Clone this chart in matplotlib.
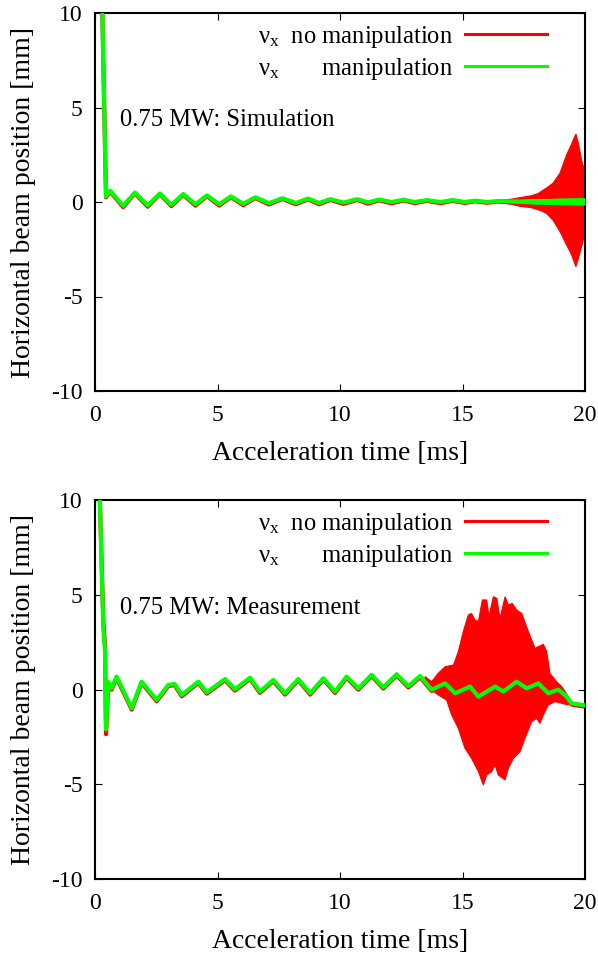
import numpy as np
import matplotlib
matplotlib.use("Agg")
import matplotlib.pyplot as plt
from matplotlib.lines import Line2D

# ==== Fonts (gnuplot-like Times look) ==== #
plt.rcParams['font.family'] = 'Liberation Serif'
plt.rcParams['mathtext.fontset'] = 'custom'
plt.rcParams['mathtext.rm'] = 'Liberation Serif'
plt.rcParams['mathtext.it'] = 'Liberation Serif:italic'

# ==== Data ==== #
# --- simulation (top panel) ---
t_sim = [0.22, 0.30, 0.45, 0.62, 1.15, 1.63, 2.15, 2.65, 3.12, 3.60, 4.10,
         4.57, 5.07, 5.55, 6.05, 6.55, 7.10, 7.65, 8.20, 8.70, 9.15, 9.60,
         10.15, 10.70, 11.15, 11.60, 12.10, 12.60, 13.05, 13.55, 14.10,
         14.60, 15.10, 15.50, 16.00, 16.50, 17.00, 17.50, 18.00, 18.50,
         19.00, 19.50, 20.00]
x_sim_green = [12.0, 10.0, 0.30, 0.60, -0.20, 0.50, -0.18, 0.45, -0.15, 0.42,
               -0.12, 0.35, -0.12, 0.30, -0.10, 0.25, -0.06, 0.20, -0.05, 0.18,
               -0.05, 0.15, -0.03, 0.15, -0.02, 0.13, 0.00, 0.12, 0.00, 0.10,
               0.00, 0.10, 0.00, 0.07, 0.00, 0.05, 0.03, 0.03, 0.05, 0.05,
               0.07, 0.08, 0.10]
x_sim_red = [12.0, 10.0, 0.25, 0.55, -0.27, 0.46, -0.25, 0.42, -0.22, 0.38,
             -0.19, 0.31, -0.19, 0.26, -0.17, 0.21, -0.13, 0.16, -0.12, 0.14,
             -0.12, 0.11, -0.10, 0.11, -0.09, 0.09, -0.07, 0.08, -0.06, 0.06,
             -0.06, 0.06, -0.05, 0.04, -0.04, 0.03, 0.00, 0.00, 0.00, 0.00,
             0.00, 0.00, 0.00]
# red envelope (fast oscillation) at the end of the cycle
t_sim_up = [16.5, 17.0, 17.35, 17.8, 18.1, 18.2, 18.43, 18.7, 18.98, 19.25,
            19.43, 19.63, 19.75, 19.86, 20.0]
x_sim_up = [0.08, 0.15, 0.23, 0.33, 0.45, 0.55, 0.74, 1.0, 1.53, 2.5,
            3.0, 3.6, 3.0, 2.2, 1.6]
t_sim_lo = [16.5, 17.0, 17.35, 17.8, 18.16, 18.43, 18.7, 18.98, 19.25, 19.43,
            19.63, 19.75, 19.86, 20.0]
x_sim_lo = [-0.05, -0.12, -0.23, -0.30, -0.44, -0.6, -0.97, -1.57, -2.28,
            -2.72, -3.42, -2.9, -2.37, -1.65]
# green band (small fast oscillation) at the end
t_sim_band = [17.0, 18.0, 19.0, 20.0]
x_sim_band_up = [0.10, 0.18, 0.20, 0.22]
x_sim_band_lo = [-0.05, -0.12, -0.15, -0.17]

# --- measurement (bottom panel) ---
t_meas = [0.18, 0.34, 0.41, 0.45, 0.54, 0.68, 0.88, 1.50, 1.90, 2.52, 2.99,
          3.25, 3.54, 4.22, 4.56, 5.31, 5.71, 6.33, 6.73, 7.28, 7.76, 8.30,
          8.78, 9.32, 9.80, 10.27, 10.75, 11.29, 11.77, 12.31, 12.79, 13.27,
          13.74, 14.29, 14.70, 15.31, 15.65, 16.33, 16.67, 17.21, 17.62,
          18.10, 18.50, 18.91, 19.18, 19.46, 19.93, 20.00]
x_meas_green = [10.8, 3.2, 2.0, -2.1, 0.42, 0.07, 0.69, -0.98, 0.42, -0.54,
                0.25, 0.30, -0.28, 0.42, -0.14, 0.56, 0.02, 0.63, -0.10, 0.51,
                -0.19, 0.56, -0.19, 0.60, -0.10, 0.69, 0.07, 0.78, 0.13, 0.81,
                0.19, 0.72, 0.00, 0.33, -0.19, 0.16, -0.37, 0.16, -0.10, 0.42,
                0.07, 0.33, -0.19, 0.00, -0.28, -0.72, -0.81, -0.82]
x_meas_red = [10.8, 3.6, 2.3, -2.35, 0.35, 0.00, 0.62, -1.05, 0.36, -0.61,
              0.19, 0.24, -0.35, 0.36, -0.21, 0.50, -0.05, 0.57, -0.17, 0.45,
              -0.26, 0.50, -0.26, 0.54, -0.17, 0.63, 0.00, 0.72, 0.06, 0.75,
              0.12, 0.66, -0.07, 0.27, -0.26, 0.10, -0.44, 0.10, -0.17, 0.36,
              0.00, 0.27, -0.26, -0.07, -0.35, -0.79, -0.88, -0.89]
t_meas_up = [13.47, 13.74, 14.01, 14.29, 14.63, 14.83, 15.03, 15.24, 15.37,
             15.51, 15.65, 15.81, 15.99, 16.08, 16.26, 16.40, 16.53, 16.74,
             16.87, 17.03, 17.21, 17.42, 17.69, 17.96, 18.10, 18.30, 18.44,
             18.57, 18.84, 19.05, 19.32]
x_meas_up = [0.69, 0.42, 0.86, 1.21, 1.30, 2.0, 3.06, 3.94, 4.02, 3.67, 3.59,
             4.73, 4.73, 3.85, 4.90, 4.82, 3.76, 4.90, 4.46, 4.55, 4.20, 4.02,
             3.06, 2.18, 2.27, 2.39, 2.00, 0.86, 0.42, 0.16, -0.37]
t_meas_lo = [13.47, 14.01, 14.35, 14.56, 14.83, 15.10, 15.37, 15.65, 15.85,
             15.99, 16.19, 16.33, 16.46, 16.74, 16.87, 17.08, 17.35, 17.55,
             17.82, 18.03, 18.16, 18.30, 18.50, 18.78, 19.05, 19.32]
x_meas_lo = [0.25, -0.28, -0.54, -1.34, -2.04, -3.09, -3.62, -4.32, -5.03,
             -4.50, -4.32, -3.97, -4.50, -4.76, -4.15, -3.62, -3.27, -2.57,
             -1.69, -1.51, -1.78, -1.34, -0.81, -0.63, -0.72, -0.81]

RED = '#ff0000'
GREEN = '#00ff00'
LABEL_1 = r'$\mathrm{\nu_x}$  no manipulation'
LABEL_2 = r'$\mathrm{\nu_x}$       manipulation'


def style_axes(ax):
    ax.set_xlim(0, 20)
    ax.set_ylim(-10, 10)
    ax.set_xticks([0, 5, 10, 15, 20])
    ax.set_yticks([-10, -5, 0, 5, 10])
    ax.set_yticklabels(['-10', '-5', '0', '5', '10'])
    ax.tick_params(direction='in', top=True, right=True, length=5, width=0.8,
                   labelsize=17)
    ax.tick_params(axis='y', pad=9)
    ax.tick_params(axis='x', pad=10)
    for s in ax.spines.values():
        s.set_linewidth(1.5)
    ax.set_xlabel('Acceleration time [ms]', fontsize=20, labelpad=11)
    ax.set_ylabel('Horizontal beam position [mm]', fontsize=20, labelpad=11)
    handles = [Line2D([], [], color=RED, lw=2.2), Line2D([], [], color=GREEN, lw=2.2)]
    ax.legend(handles, [LABEL_1, LABEL_2], loc='upper right',
              bbox_to_anchor=(0.9224, 0.972), frameon=False, markerfirst=False,
              fontsize=17.7, handlelength=3.35, handletextpad=0.45,
              borderaxespad=0, borderpad=0, labelspacing=0.25)


def plot_panel(ax, t, x_red, x_green, t_up, x_up, t_lo, x_lo, label):
    ax.plot(t, x_red, color=RED, lw=3.0, zorder=2)
    ax.fill(list(t_up) + list(t_lo)[::-1], list(x_up) + list(x_lo)[::-1],
            color=RED, lw=0.8, zorder=2)
    ax.plot(t, x_green, color=GREEN, lw=3.0, zorder=3)
    ax.text(1, 4, label, fontsize=17.7, ha='left', va='baseline')
    style_axes(ax)


fig = plt.figure(figsize=(5.98, 9.59), dpi=100)
ax1 = fig.add_axes([95 / 598, 1 - 391 / 959, 490 / 598, 378 / 959])
ax2 = fig.add_axes([95 / 598, 1 - 879.3 / 959, 490 / 598, 379.3 / 959])

plot_panel(ax1, t_sim, x_sim_red, x_sim_green, t_sim_up, x_sim_up,
           t_sim_lo, x_sim_lo, '0.75 MW: Simulation')
ax1.fill_between(t_sim_band, x_sim_band_lo, x_sim_band_up, color=GREEN, lw=0, zorder=3)
plot_panel(ax2, t_meas, x_meas_red, x_meas_green, t_meas_up, x_meas_up,
           t_meas_lo, x_meas_lo, '0.75 MW: Measurement')

fig.savefig('out.png', dpi=100)
